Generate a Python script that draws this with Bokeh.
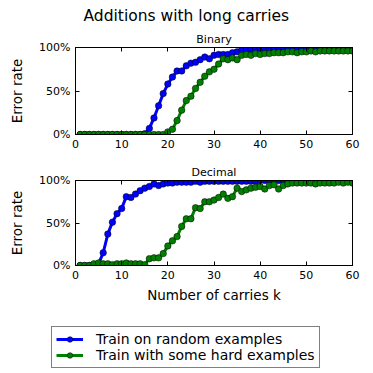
from bokeh.plotting import figure
from bokeh.layouts import column
from bokeh.models import (Range1d, FixedTicker, LinearAxis, Legend, LegendItem,
                          Title, ColumnDataSource)
from bokeh.embed import file_html
from bokeh.resources import INLINE

FONT = "DejaVu Sans"
BLUE = "#0000ff"
GREEN = "#008000"

k = list(range(1, 61))

binary_random = [0]*14 + [1, 7, 19, 33, 47, 58, 66, 73, 73, 79, 82, 83, 86, 89, 87, 91,
                          92, 92, 92, 94, 95, 97, 98, 98, 98, 99, 99, 99, 99] + [100]*17
binary_hard = [0]*19 + [3, 6, 16, 28, 39, 44, 53, 60, 67, 72, 75, 81, 87, 86, 88, 86,
                        91, 92, 91, 93, 92, 93, 93, 94, 94, 94, 95, 95, 94, 95, 95,
                        96, 95, 96, 96, 96, 96, 96, 96, 96, 96]
decimal_random = [0, 0, 0, 0, 2, 15, 37, 51, 61, 67, 81, 80, 84, 88, 91, 93, 96, 94, 96,
                  97, 97, 98, 98, 98, 98, 99, 98, 99, 99, 99, 99, 99, 99, 99, 99, 99,
                  99, 99, 99] + [100]*21
decimal_hard = [0, 0, 0, 2, 3, 2, 2, 1, 2, 2, 3, 2, 2, 2, 1, 8, 9, 9, 14, 23, 29, 34, 46,
                55, 55, 68, 67, 75, 75, 77, 80, 84, 79, 81, 91, 87, 89, 91, 92, 93, 90,
                94, 95, 90, 94, 96, 97, 97, 97, 97, 97, 96, 97, 97, 97, 97, 98, 97, 98, 97]

x_ticks = [0, 10, 20, 30, 40, 50, 60]
y_ticks = [0, 50, 100]
y_tick_labels = {0: "0%", 50: "50%", 100: "100%"}

suptitle = "Additions with long carries"
panel_titles = ["Binary", "Decimal"]
series_names = ["Train on random examples", "Train with some hard examples"]
x_label = "Number of carries k"
y_label = "Error rate"


def style_axis(ax, ticks, labels_visible=True):
    ax.ticker = FixedTicker(ticks=ticks)
    ax.major_tick_in = 4
    ax.major_tick_out = 0
    ax.minor_tick_line_color = None
    ax.axis_line_color = "black"
    ax.major_tick_line_color = "black"
    ax.major_label_text_font = FONT
    ax.major_label_text_color = "black"
    if labels_visible:
        ax.major_label_text_font_size = "11px"
        ax.major_label_standoff = 5
    else:
        ax.major_label_text_font_size = "0px"
        ax.major_label_standoff = 0
        ax.major_label_overrides = {t: "" for t in ticks}


def add_series(p, blue, green):
    src = ColumnDataSource(dict(k=k, blue=blue, green=green))
    lb = p.line("k", "blue", source=src, line_color=BLUE, line_width=3)
    sb = p.scatter("k", "blue", source=src, size=6.5, fill_color=BLUE,
                   line_color="black", line_width=0.5)
    lg = p.line("k", "green", source=src, line_color=GREEN, line_width=3)
    sg = p.scatter("k", "green", source=src, size=6.5, fill_color=GREEN,
                   line_color="black", line_width=0.5)
    return [(lb, sb), (lg, sg)]


def make_panel(title, blue, green, height, top, bottom):
    p = figure(width=373, height=height, output_backend="svg", toolbar_location=None,
               x_range=Range1d(0, 60), y_range=Range1d(0, 100), title=None,
               min_border_left=75, min_border_right=21,
               min_border_top=top, min_border_bottom=bottom)
    p.grid.visible = False
    p.outline_line_color = "black"
    p.outline_line_width = 1
    p.background_fill_color = "white"
    p.border_fill_color = "white"
    p.add_layout(LinearAxis(), "above")
    p.add_layout(LinearAxis(), "right")
    for ax in p.xaxis:
        style_axis(ax, x_ticks, ax in p.below)
    for ax in p.yaxis:
        style_axis(ax, y_ticks, ax in p.left)
    p.left[0].major_label_overrides = y_tick_labels
    p.left[0].axis_label = y_label
    p.left[0].axis_label_text_font = FONT
    p.left[0].axis_label_text_font_size = "13.5px"
    p.left[0].axis_label_text_font_style = "normal"
    p.left[0].axis_label_text_color = "black"
    p.left[0].axis_label_standoff = 11

    add_series(p, blue, green)

    p.add_layout(Title(text=title, align="center", text_font=FONT, text_font_size="11px",
                       text_font_style="normal", text_color="black", standoff=4), "above")
    return p


p1 = make_panel(panel_titles[0], binary_random, binary_hard, 158, 46, 24)
p1.add_layout(Title(text=suptitle, align="left", offset=8, text_font=FONT,
                    text_font_size="15.5px", text_font_style="normal",
                    text_color="black", standoff=8), "above")

p2 = make_panel(panel_titles[1], decimal_random, decimal_hard, 147, 22, 37)
p2.below[0].axis_label = x_label
p2.below[0].axis_label_text_font = FONT
p2.below[0].axis_label_text_font_size = "13.5px"
p2.below[0].axis_label_text_font_style = "normal"
p2.below[0].axis_label_text_color = "black"
p2.below[0].axis_label_standoff = 5

# legend in its own figure (series drawn out of view, only the legend shows)
p3 = figure(width=373, height=68, output_backend="svg", toolbar_location=None,
            x_axis_type=None, y_axis_type=None,
            x_range=Range1d(1000, 1001), y_range=Range1d(1000, 1001),
            min_border=0, min_border_left=0, min_border_right=0,
            min_border_top=0, min_border_bottom=0)
p3.outline_line_color = None
p3.grid.visible = False
p3.background_fill_color = "white"
p3.border_fill_color = "white"
rends = add_series(p3, decimal_random, decimal_hard)
legend = Legend(items=[LegendItem(label=series_names[0], renderers=list(rends[0])),
                       LegendItem(label=series_names[1], renderers=list(rends[1]))],
                location=(51, 5), margin=0, padding=4, spacing=0,
                label_height=14, glyph_height=14, glyph_width=27, label_standoff=13,
                label_text_font=FONT, label_text_font_size="14px", label_text_color="black",
                border_line_color="black", border_line_width=1,
                background_fill_color="white", background_fill_alpha=1)
p3.add_layout(legend, "center")

layout = column(p1, p2, spacing=0)
open("out.html", "w").write(file_html([layout, p3], INLINE))
